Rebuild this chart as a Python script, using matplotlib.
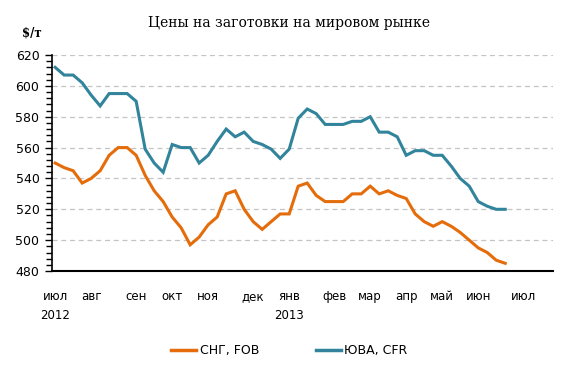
import matplotlib.pyplot as plt
import numpy as np
from matplotlib.ticker import MultipleLocator
from matplotlib.lines import Line2D

# weekly prices, $/t (Jul 2012 - Jun 2013)
cis_fob = [550, 547, 545, 537, 540, 545, 555, 560, 560, 555,
           542, 532, 525, 515, 508, 497, 502, 510, 515, 530,
           532, 520, 512, 507, 512, 517, 517, 535, 537, 529,
           525, 525, 525, 530, 530, 535, 530, 532, 529, 527,
           517, 512, 509, 512, 509, 505, 500, 495, 492, 487, 485]
sea_cfr = [612, 607, 607, 602, 594, 587, 595, 595, 595, 590,
           559, 550, 544, 562, 560, 560, 550, 555, 564, 572,
           567, 570, 564, 562, 559, 553, 559, 579, 585, 582,
           575, 575, 575, 577, 577, 580, 570, 570, 567, 555,
           558, 558, 555, 555, 548, 540, 535, 525, 522, 520, 520]

month_pos = [0, 4, 9, 13, 17, 22, 26, 31, 35, 39, 43, 47, 52]
month_labels = ['июл\n2012', 'авг', 'сен', 'окт', 'ноя', 'дек', 'янв\n2013',
                'фев', 'мар', 'апр', 'май', 'июн', 'июл']

c_orange = '#E46C0A'
c_blue = '#31849B'

fig = plt.figure(figsize=(5.79, 3.78), dpi=100)
ax = fig.add_axes([0.0898, 0.283, 0.8652, 0.5715])

x = np.arange(len(cis_fob))
ax.plot(x, cis_fob, color=c_orange, lw=2.2, solid_joinstyle='miter')
ax.plot(x, sea_cfr, color=c_blue, lw=2.2, solid_joinstyle='miter')

ax.set_xlim(-0.35, 55.3)
ax.set_ylim(480, 620)
ax.set_yticks(np.arange(480, 621, 20))
ax.yaxis.set_minor_locator(MultipleLocator(4))
for v in range(500, 621, 20):
    ax.axhline(v, color='#c4c4c4', lw=0.9, ls=(0, (4, 3)), zorder=0)

ax.spines['top'].set_visible(False)
ax.spines['right'].set_visible(False)
ax.spines['left'].set_linewidth(1.2)
ax.spines['bottom'].set_linewidth(1.5)

ax.tick_params(axis='y', which='major', length=5, width=1, labelsize=9, pad=4)
ax.tick_params(axis='y', which='minor', length=4, width=1)
ax.set_xticks(month_pos)
ax.set_xticklabels(month_labels, fontsize=8.5, linespacing=1.6, va='top')
ax.tick_params(axis='x', length=0, pad=14)

fig.text(0.5, 0.94, 'Цены на заготовки на мировом рынке', ha='center', va='center',
         fontsize=10, family='DejaVu Serif')
fig.text(0.055, 0.912, '$/т', ha='center', va='center', fontsize=8.5,
         family='DejaVu Serif', fontweight='bold')

handles = [Line2D([], [], color=c_orange, lw=2.5), Line2D([], [], color=c_blue, lw=2.5)]
fig.legend(handles, ['СНГ, FOB', 'ЮВА, CFR'], loc='center', bbox_to_anchor=(0.5, 0.073),
           ncol=2, frameon=False, fontsize=9, handlelength=2.0, handletextpad=0.3,
           columnspacing=4.5)

fig.savefig('out.png', dpi=100)
